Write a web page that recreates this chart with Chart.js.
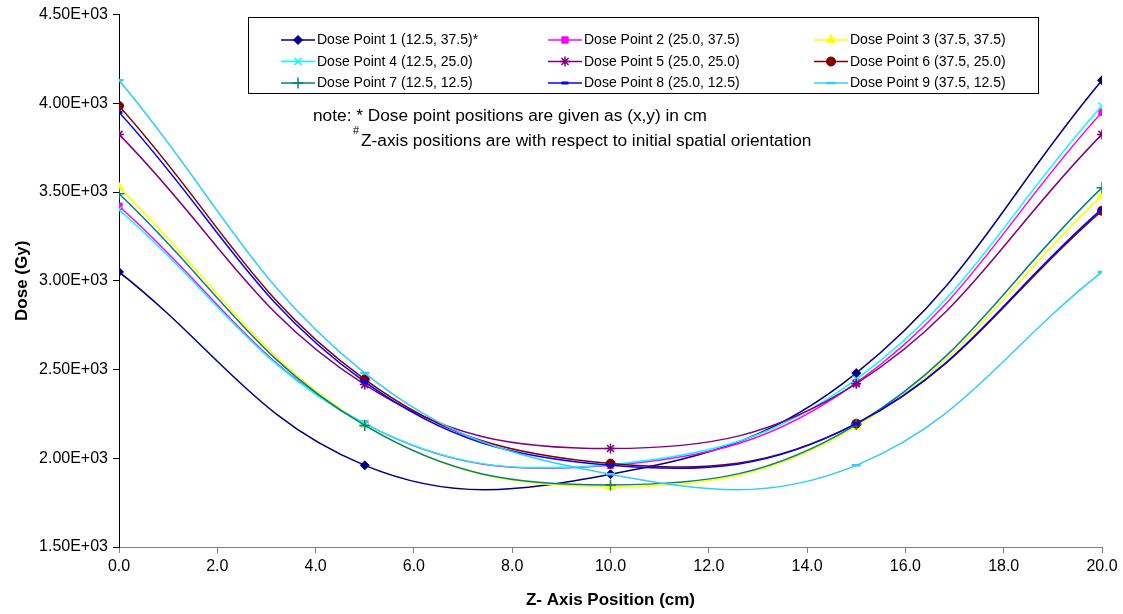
<!DOCTYPE html>
<html>
<head>
<meta charset="utf-8">
<title>Dose vs Z-Axis Position</title>
<script src="https://cdn.jsdelivr.net/npm/chart.js"></script>
<style>
  html, body { margin: 0; padding: 0; background: #fff; }
  #wrap { width: 1123px; height: 614px; }
</style>
</head>
<body>
<div id="wrap"><canvas id="doseChart" width="1123" height="614"></canvas></div>
<script>
// Z positions (cm) where dose was measured
const zPositions = [0, 5, 10, 15, 20];

// Dose (Gy) at each z position, per dose point
const dosePoint1 = [3050, 1960, 1910, 2480, 4130];
const dosePoint2 = [3420, 2195, 1960, 2425, 3950];
const dosePoint3 = [3525, 2190, 1840, 2180, 3480];
const dosePoint4 = [3400, 2195, 1965, 2445, 3985];
const dosePoint5 = [3825, 2415, 2055, 2420, 3825];
const dosePoint6 = [3985, 2445, 1970, 2195, 3395];
const dosePoint7 = [3490, 2185, 1850, 2190, 3525];
const dosePoint8 = [3950, 2430, 1960, 2195, 3405];
const dosePoint9 = [4130, 2480, 1910, 1960, 3050];

const seriesLabels = [
    'Dose Point 1 (12.5, 37.5)*',
    'Dose Point 2 (25.0, 37.5)',
    'Dose Point 3 (37.5, 37.5)',
    'Dose Point 4 (12.5, 25.0)',
    'Dose Point 5 (25.0, 25.0)',
    'Dose Point 6 (37.5, 25.0)',
    'Dose Point 7 (12.5, 12.5)',
    'Dose Point 8 (25.0, 12.5)',
    'Dose Point 9 (37.5, 12.5)'
];
const allSeries = [dosePoint1, dosePoint2, dosePoint3, dosePoint4, dosePoint5,
                   dosePoint6, dosePoint7, dosePoint8, dosePoint9];

const yTicks = [1500, 2000, 2500, 3000, 3500, 4000, 4500];
const xTicks = [0, 2, 4, 6, 8, 10, 12, 14, 16, 18, 20];

// marker styling per series (Excel-like)
const seriesStyles = [
    { color: '#000080', pointStyle: 'rectRot',  radius: 4.5, pbw: 1 },
    { color: '#FF00FF', pointStyle: 'rect',     radius: 4.5, pbw: 1 },
    { color: '#FFFF00', pointStyle: 'triangle', radius: 5.5, pbw: 1 },
    { color: '#00FFFF', pointStyle: 'crossRot', radius: 5,   pbw: 1.5 },
    { color: '#800080', pointStyle: 'star',     radius: 5,   pbw: 1.5 },
    { color: '#800000', pointStyle: 'circle',   radius: 4.5, pbw: 1 },
    { color: '#008080', pointStyle: 'cross',    radius: 5.5, pbw: 1.5 },
    { color: '#0000FF', pointStyle: 'line',     radius: 3.5, pbw: 3 },
    { color: '#33CCFF', pointStyle: 'line',     radius: 4.5, pbw: 2.5 }
];

const datasets = allSeries.map((values, i) => {
    const st = seriesStyles[i];
    return {
        label: seriesLabels[i],
        data: zPositions.map((z, k) => ({ x: z, y: values[k] })),
        borderColor: st.color,
        backgroundColor: st.color,
        borderWidth: 1.5,
        pointStyle: st.pointStyle,
        pointRadius: st.radius,
        pointBorderWidth: st.pbw,
        pointBackgroundColor: st.color,
        pointBorderColor: st.color,
        tension: 0.4,
        fill: false,
        order: allSeries.length - i
    };
});

// legend box + notes, drawn like the Excel chart
const legendColX = [281, 548, 814];
const legendRowY = [40, 61.5, 83];

const legendPlugin = {
    id: 'boxLegend',
    afterDraw(chart) {
        const ctx = chart.ctx;
        ctx.save();
        ctx.fillStyle = '#fff';
        ctx.fillRect(248.5, 17.5, 790, 76);
        ctx.strokeStyle = '#000';
        ctx.lineWidth = 1;
        ctx.strokeRect(248.5, 17.5, 790, 76);

        ctx.font = "14px 'Liberation Sans', Arial, sans-serif";
        ctx.textBaseline = 'middle';
        chart.data.datasets.forEach((ds, i) => {
            const x0 = legendColX[i % 3];
            const y = legendRowY[Math.floor(i / 3)];
            ctx.strokeStyle = ds.borderColor;
            ctx.lineWidth = ds.borderWidth;
            ctx.beginPath();
            ctx.moveTo(x0, y);
            ctx.lineTo(x0 + 34, y);
            ctx.stroke();
            ctx.fillStyle = ds.pointBackgroundColor;
            ctx.strokeStyle = ds.pointBorderColor;
            ctx.lineWidth = ds.pointBorderWidth;
            Chart.helpers.drawPoint(ctx, {
                pointStyle: ds.pointStyle,
                radius: ds.pointRadius,
                borderWidth: ds.pointBorderWidth,
                rotation: 0
            }, x0 + 17, y);
            ctx.fillStyle = '#000';
            ctx.fillText(ds.label, x0 + 36, y + 0.5);
        });

        // notes
        ctx.fillStyle = '#000';
        ctx.textBaseline = 'alphabetic';
        ctx.font = "17.3px 'Liberation Sans', Arial, sans-serif";
        ctx.fillText('note: * Dose point positions are given as (x,y) in cm', 313, 121);
        ctx.font = "11px 'Liberation Sans', Arial, sans-serif";
        ctx.fillText('#', 353, 134);
        ctx.font = "17.3px 'Liberation Sans', Arial, sans-serif";
        ctx.fillText('Z-axis positions are with respect to initial spatial orientation', 361, 146);
        ctx.restore();
    }
};

Chart.defaults.font.family = "'Liberation Sans', Arial, sans-serif";
Chart.defaults.color = '#000';

new Chart(document.getElementById('doseChart'), {
    type: 'line',
    data: { datasets: datasets },
    options: {
        responsive: false,
        animation: false,
        devicePixelRatio: 1,
        layout: { padding: { top: 14, right: 21, left: 0, bottom: 0 } },
        plugins: {
            legend: { display: false },
            tooltip: { enabled: false }
        },
        scales: {
            x: {
                type: 'linear',
                min: 0,
                max: 20,
                afterBuildTicks: scale => { scale.ticks = xTicks.map(v => ({ value: v })); },
                afterFit: scale => { scale.height = 67; },
                ticks: {
                    font: { size: 16 },
                    padding: 4,
                    maxRotation: 0,
                    callback: v => Number(v).toFixed(1)
                },
                grid: { drawOnChartArea: false, drawTicks: true, tickLength: 6, color: '#808080' },
                border: { display: true, color: '#808080', width: 1 },
                title: {
                    display: true,
                    text: 'Z- Axis Position (cm)',
                    font: { size: 17, weight: 'bold' },
                    padding: { top: 0, bottom: 3 }
                }
            },
            y: {
                type: 'linear',
                min: 1500,
                max: 4500,
                afterBuildTicks: scale => { scale.ticks = yTicks.map(v => ({ value: v })); },
                afterFit: scale => { scale.width = 119; },
                ticks: {
                    font: { size: 16 },
                    padding: 5,
                    callback: v => (v / 1000).toFixed(2) + 'E+03'
                },
                grid: { drawOnChartArea: false, drawTicks: true, tickLength: 6, color: '#000' },
                border: { display: true, color: '#000', width: 1 },
                title: {
                    display: true,
                    text: 'Dose (Gy)',
                    font: { size: 17, weight: 'bold' },
                    padding: { top: 12, bottom: 0 }
                }
            }
        }
    },
    plugins: [legendPlugin]
});
</script>
</body>
</html>
